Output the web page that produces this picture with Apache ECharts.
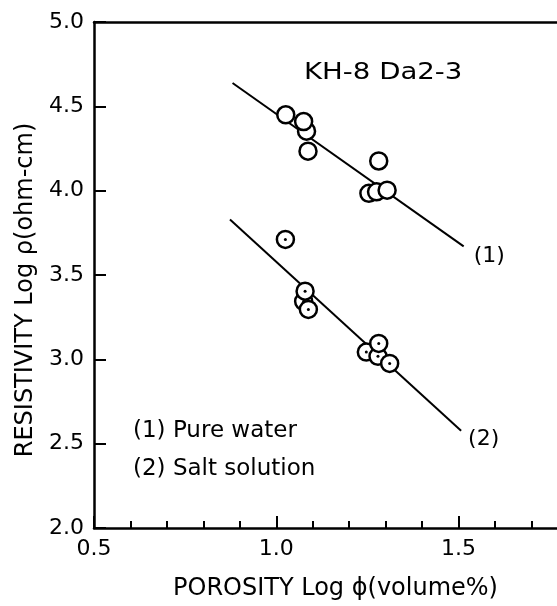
<!DOCTYPE html>
<html>
<head>
<meta charset="utf-8">
<script src="https://cdn.jsdelivr.net/npm/echarts@6/dist/echarts.min.js"></script>
<style>html,body{margin:0;padding:0;background:#fff;}#c{width:557px;height:606px;}</style>
</head>
<body>
<div id="c"></div>
<script>
// Pure water (open circles)
const pureX = [1.083, 1.026, 1.075, 1.087, 1.281, 1.254, 1.275, 1.304];
const pureY = [4.353, 4.450, 4.410, 4.234, 4.176, 3.984, 3.993, 4.003];
// Salt solution (circles with dot)
const saltX = [1.075, 1.025, 1.079, 1.088, 1.247, 1.279, 1.281, 1.311];
const saltY = [3.344, 3.711, 3.404, 3.296, 3.043, 3.018, 3.094, 2.976];
// Fitted lines
const line1X = [0.880, 1.514];
const line1Y = [4.638, 3.670];
const line2X = [0.873, 1.507];
const line2Y = [3.829, 2.576];
const line1Label = '(1)';
const line2Label = '(2)';
const xTicks = [0.5, 1.0, 1.5];
const xMinorTicks = [0.6, 0.7, 0.8, 0.9, 1.1, 1.2, 1.3, 1.4, 1.6, 1.7];
const yTicks = [2.0, 2.5, 3.0, 3.5, 4.0, 4.5, 5.0];
const title = 'KH-8 Da2-3';
const legend1 = '(1) Pure water';
const legend2 = '(2) Salt solution';
const xName = 'POROSITY Log ϕ(volume%)';
const yName = 'RESISTIVITY Log ρ(ohm-cm)';

const FONT = 'DejaVu Sans';
const zip = (a, b) => a.map((v, i) => [v, b[i]]);

const chart = echarts.init(document.getElementById('c'));
const lineLabel = (txt, dist, dy) => ({
  show: true, formatter: txt, position: 'right', distance: dist, offset: [0, dy],
  color: '#000', fontFamily: FONT, fontSize: 22
});
chart.setOption({
  animation: false,
  backgroundColor: '#fff',
  grid: { left: 94, right: 0, top: 22, bottom: 63, containLabel: false },
  xAxis: [{
    type: 'value', min: 0.5, max: 1.77, position: 'bottom',
    axisLine: { lineStyle: { color: '#000', width: 2.5 } },
    axisTick: { inside: true, length: 12, lineStyle: { color: '#000', width: 2 }, customValues: xTicks },
    axisLabel: { customValues: xTicks, formatter: v => v.toFixed(1), color: '#000', fontFamily: FONT, fontSize: 22, margin: 10 },
    splitLine: { show: false },
    name: xName, nameLocation: 'middle', nameGap: 49,
    nameTextStyle: { color: '#000', fontFamily: FONT, fontSize: 24, padding: [0, 0, 0, 20] }
  }, {
    type: 'value', min: 0.5, max: 1.77, position: 'bottom',
    axisLine: { show: false },
    axisTick: { inside: true, length: 7, lineStyle: { color: '#000', width: 2 }, customValues: xMinorTicks },
    axisLabel: { show: false }, splitLine: { show: false }
  }, {
    type: 'value', min: 0.5, max: 1.77, position: 'top',
    axisLine: { lineStyle: { color: '#000', width: 2.5 } },
    axisTick: { show: false }, axisLabel: { show: false }, splitLine: { show: false }
  }],
  yAxis: [{
    type: 'value', min: 2, max: 5, interval: 0.5,
    axisLine: { lineStyle: { color: '#000', width: 2.5 } },
    axisTick: { inside: true, length: 12, lineStyle: { color: '#000', width: 2 }, customValues: yTicks },
    axisLabel: { customValues: yTicks, formatter: v => v.toFixed(1), color: '#000', fontFamily: FONT, fontSize: 22, margin: 10 },
    splitLine: { show: false },
    name: yName, nameLocation: 'middle', nameGap: 56,
    nameTextStyle: { color: '#000', fontFamily: FONT, fontSize: 24, padding: [0, 30, 0, 0] }
  }],
  series: [
    { type: 'line', data: zip(line1X, line1Y), symbol: 'none', z: 2,
      lineStyle: { color: '#000', width: 2 },
      endLabel: lineLabel(line1Label, 10, 10) },
    { type: 'line', data: zip(line2X, line2Y), symbol: 'none', z: 2,
      lineStyle: { color: '#000', width: 2 },
      endLabel: lineLabel(line2Label, 7, 8) },
    { type: 'scatter', data: zip(pureX, pureY), symbol: 'circle', symbolSize: 17, z: 3,
      itemStyle: { color: '#fff', borderColor: '#000', borderWidth: 2.5, opacity: 1 } },
    { type: 'scatter', data: zip(saltX, saltY), symbol: 'circle', symbolSize: 17, z: 3,
      itemStyle: { color: '#fff', borderColor: '#000', borderWidth: 2.5, opacity: 1 } },
    { type: 'scatter', data: zip(saltX, saltY), symbol: 'circle', symbolSize: 3, z: 4,
      itemStyle: { color: '#000', opacity: 1 } }
  ],
  graphic: [
    { type: 'text', x: 304, y: 62, scaleX: 1.2, style: { text: title, fill: '#000', font: '23px "DejaVu Sans"' } },
    { type: 'text', x: 133, y: 420, style: { text: legend1, fill: '#000', font: '23px "DejaVu Sans"' } },
    { type: 'text', x: 133, y: 458, style: { text: legend2, fill: '#000', font: '23px "DejaVu Sans"' } }
  ]
});
</script>
</body>
</html>
